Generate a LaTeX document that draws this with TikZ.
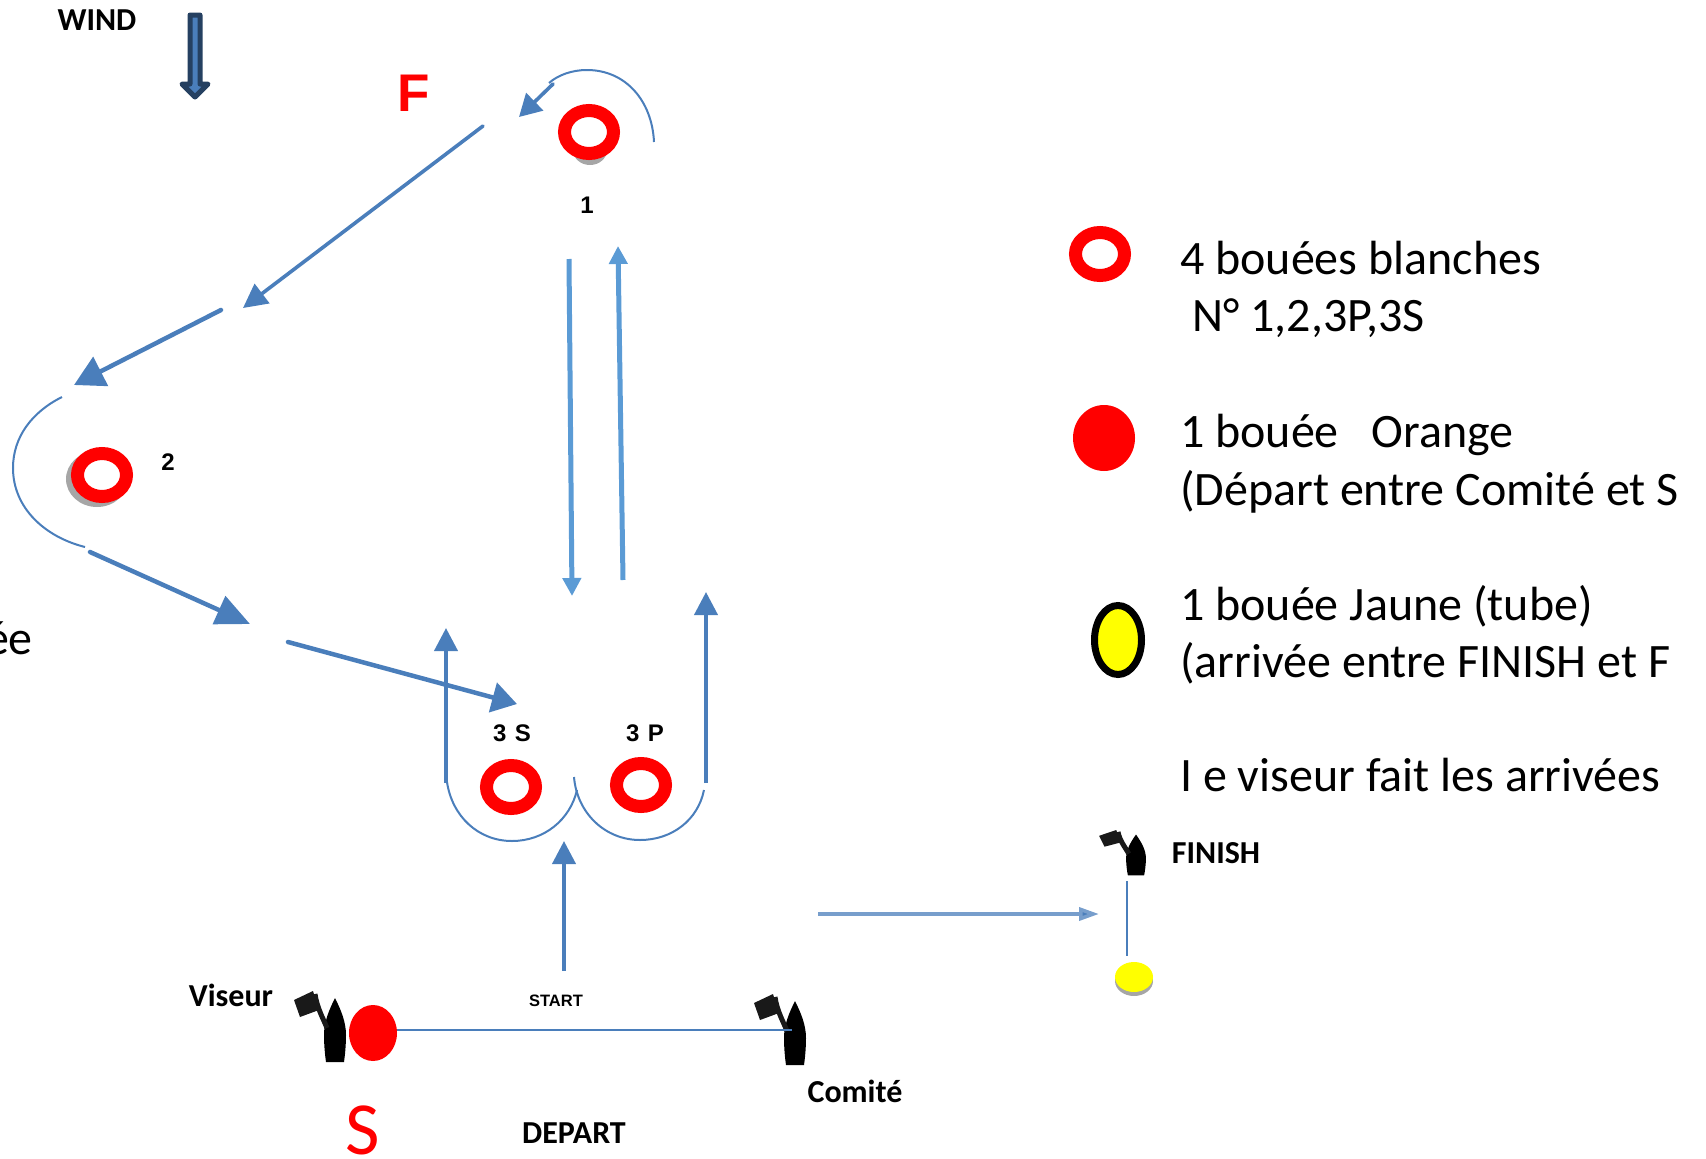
\documentclass[tikz,border=0pt]{standalone}
\usepackage{fontspec}
\setmainfont{Carlito}
\newfontfamily\arialf{Liberation Sans}
\usetikzlibrary{shapes.geometric,arrows.meta}
\definecolor{bl}{HTML}{4A7EBB}
\definecolor{lb}{HTML}{5B9BD5}
\definecolor{nv}{HTML}{254061}
\definecolor{sh}{HTML}{A6A6A6}
\definecolor{yel}{HTML}{FFFF00}
\definecolor{rd}{HTML}{FF0000}
\tikzset{
  x=1pt,y=-1pt,
  ring/.style={ellipse,fill=white,draw=rd,line width=13pt,inner sep=0pt,minimum width=49pt,minimum height=43pt},
  shadowbuoy/.style={ellipse,fill=sh,inner sep=0pt,minimum width=62pt,minimum height=56pt},
  redbuoy/.style={ellipse,fill=rd,inner sep=0pt},
  legtext/.style={anchor=base west,inner sep=0pt,font=\fontsize{48}{48}\selectfont,text=black},
  boldtext/.style={inner sep=0pt,font=\fontsize{32}{32}\selectfont\bfseries,text=black},
  numtext/.style={inner sep=0pt,font=\fontsize{24}{24}\selectfont\arialf\bfseries,text=black},
  thin curve/.style={draw=bl,line width=2pt},
  bigarrow/.style={draw=bl,line width=4.5pt,line cap=round,-{Triangle[length=34pt,width=30pt]}},
  uparrow/.style={draw=bl,line width=4pt,-{Triangle[length=23pt,width=23pt]}},
  lightarrow/.style={draw=lb,line width=5pt,-{Triangle[length=18pt,width=18pt]}},
  boat/.pic={
    \fill[black] (0,-32) .. controls (6,-20) and (11,-8) .. (11,5) .. controls (11,15) and (10,25) .. (9,32) -- (-9,32) .. controls (-10,25) and (-11,15) .. (-11,5) .. controls (-11,-8) and (-6,-20) .. (0,-32) -- cycle;
    \fill[black!90] (-41,-30) -- (-22,-39) -- (-16,-20) -- (-35,-13) -- cycle;
    \draw[black!90,line width=5pt] (-20,-36) .. controls (-18,-22) and (-12,-12) .. (-8,-2);
  }
}
\begin{document}
\begin{tikzpicture}
\useasboundingbox (0,0) rectangle (1706,1159);
\clip (0,0) rectangle (1706,1159);

% free ends
\coordinate (f1a) at (483,126);
\coordinate (f1b) at (243,308);
\coordinate (f2a) at (221,310);
\coordinate (f2b) at (74,385);
\coordinate (f3a) at (90,552);
\coordinate (f3b) at (250,624);
\coordinate (f4a) at (288,642);
\coordinate (f4b) at (517,704);
\coordinate (r1a) at (553,84);
\coordinate (r1b) at (519,117);
\coordinate (dna) at (569,259);
\coordinate (dnb) at (572,596);
\coordinate (upa) at (623,580);
\coordinate (upb) at (618,246);
\coordinate (la) at (446,783);
\coordinate (lb) at (446,628);
\coordinate (ra) at (706,783);
\coordinate (rb) at (706,592);
\coordinate (sa) at (564,971);
\coordinate (sb) at (564,841);
\coordinate (ha) at (818,914);
\coordinate (hb) at (1099,914);
\coordinate (comline) at (792,1030);
\coordinate (fina) at (1127,881);
\coordinate (finb) at (1127,956);

% wind arrow
\draw[draw=nv,fill=bl,line width=5pt,line join=round]
  (190,15) -- (200,15) -- (200,84) -- (208,84) -- (195,97) -- (182,84) -- (190,84) -- cycle;

% buoy shadows
\node[shadowbuoy,minimum width=34pt,minimum height=30pt] at (590,150) {};
\node[shadowbuoy] at (97,479) {};

% buoys
\node[ring] (b1) at (589,132) {};
\node[ring] (b2) at (102,475) {};
\node[ring] (b3s) at (511,787) {};
\node[ring] (b3p) at (641,785) {};

% rounding curves
\draw[thin curve] (654,142) .. controls (652,100) and (625,70) .. (587,70) .. controls (572,70) and (558,75) .. (549,83);
\draw[thin curve] (62,397) .. controls (32,412) and (13,437) .. (13,468) .. controls (13,508) and (45,537) .. (85,547);
\draw[thin curve] (447,782) .. controls (452,816) and (478,841) .. (512,841) .. controls (544,841) and (570,820) .. (577,790);
\draw[thin curve] (574,777) .. controls (577,813) and (605,840) .. (640,840) .. controls (672,840) and (698,820) .. (704,790);

% course arrows
\draw[bigarrow,line width=3.6pt,-{Triangle[length=24pt,width=24pt]}] (f1a) -- (f1b);
\draw[bigarrow,-{Triangle[length=30pt,width=32pt]}] (f2a) -- (f2b);
\draw[bigarrow] (f3a) -- (f3b);
\draw[bigarrow,-{Triangle[length=25pt,width=30pt]}] (f4a) -- (f4b);
\draw[bigarrow,line width=3.6pt,-{Triangle[length=22pt,width=24pt]}] (r1a) -- (r1b);
\draw[lightarrow] (dna) -- (dnb);
\draw[lightarrow] (upa) -- (upb);
\draw[uparrow] (la) -- (lb);
\draw[uparrow] (ra) -- (rb);
\draw[uparrow] (sa) -- (sb);
\draw[draw=bl!75,line width=3.6pt,-{Triangle[length=20pt,width=13pt,fill=bl]}] (ha) -- (hb);

% start line
\node[redbuoy,minimum width=48pt,minimum height=56pt] (sbuoy) at (373,1033) {};
\pic at (335,1030) {boat};
\pic at (795,1033) {boat};
\draw[draw=bl,line width=2.4pt] (sbuoy.east |- comline) -- (comline);

% finish line
\pic[xscale=.9,yscale=.64] at (1136,855) {boat};
\draw[draw=bl,line width=2.4pt] (fina) -- (finb);
\node[ellipse,fill=sh,inner sep=0pt,minimum width=38pt,minimum height=30pt] at (1134,981) {};
\node[ellipse,fill=yel,inner sep=0pt,minimum width=38pt,minimum height=30pt] (yb) at (1134,977) {};

% labels
\node[boldtext] (wind) at (97,20) {WIND};
\node[inner sep=0pt,font=\fontsize{53}{53}\selectfont\arialf\bfseries,text=rd] (flab) at (414,93) {F};
\node[numtext] (n1) at (587,205) {1};
\node[numtext] (n2) at (168,462) {2};
\node[numtext] (n3s) at (512,733) {3\hspace{.35em}S};
\node[numtext] (n3p) at (645,733) {3\hspace{.35em}P};
\node[inner sep=0pt,font=\fontsize{16.5}{16.5}\selectfont\arialf\bfseries] (startl) at (556,1001) {START};
\node[boldtext] (depart) at (574,1133) {DEPART};
\node[boldtext] (viseur) at (231,995) {Viseur};
\node[boldtext] (comite) at (855,1091) {Comité};
\node[boldtext] (finish) at (1216,853) {FINISH};
\node[inner sep=0pt,font=\fontsize{75}{75}\selectfont,text=rd] (slab) at (363,1130) {S};
\node[legtext,anchor=base east] (ee) at (33,654) {ée};

% legend
\node[ring] (lg1) at (1100,254) {};
\node[redbuoy,minimum width=62pt,minimum height=66pt] (lg2) at (1104,438) {};
\node[ellipse,fill=yel,draw=black,line width=7pt,inner sep=0pt,minimum width=47pt,minimum height=69pt] (lg3) at (1118,640) {};
\node[legtext] (t1) at (1180,274) {4 bouées blanches};
\node[legtext] (t2) at (1192,331) {N° 1,2,3P,3S};
\node[legtext] (t3) at (1180,447) {1 bouée\hspace{.68em}Orange};
\node[legtext] (t4) at (1180,505) {(Départ entre Comité et S};
\node[legtext] (t5) at (1180,620) {1 bouée Jaune (tube)};
\node[legtext] (t6) at (1180,677) {(arrivée entre FINISH et F};
\node[legtext] (t7) at (1180,791) {I e viseur fait les arrivées};
\end{tikzpicture}
\end{document}
